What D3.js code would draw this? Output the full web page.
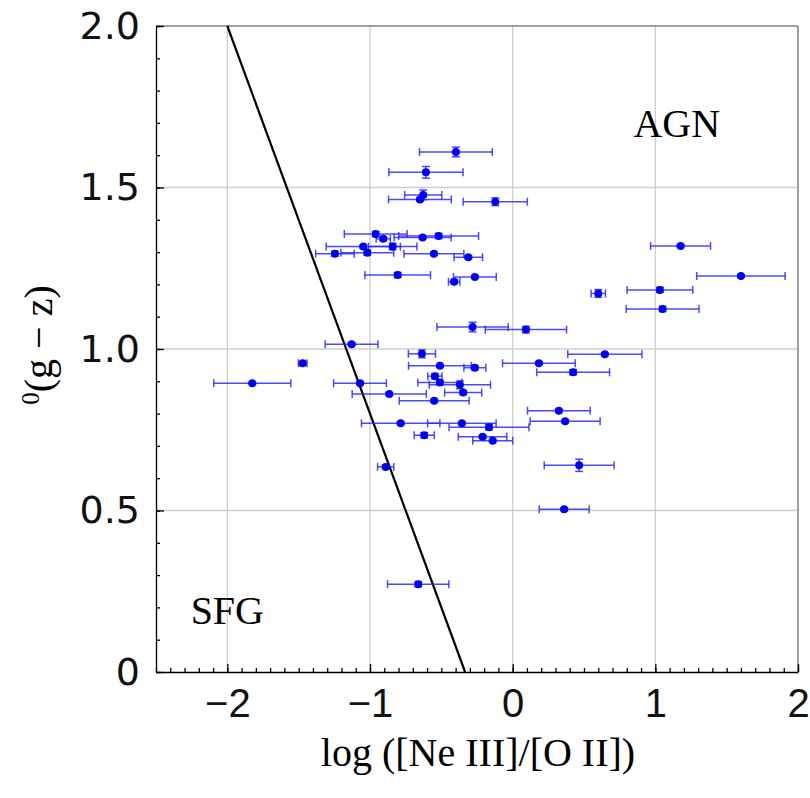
<!DOCTYPE html>
<html>
<head>
<meta charset="utf-8">
<script src="https://cdn.jsdelivr.net/npm/d3@7"></script>
<style>
  body { margin: 0; background: #fff; }
  svg { display: block; }
  .axis path, .axis line { stroke: #000; stroke-width: 1.3; }
  .axis text { font-family: "DejaVu Sans", sans-serif; font-size: 38px; fill: #111; }
  .axis-x text { font-family: "Liberation Sans Narrow", "Liberation Sans", sans-serif; font-size: 40px; }
  .grid line { stroke: #cfcfcf; stroke-width: 1.3; }
  .err { stroke: #2a2aff; stroke-width: 1.5; stroke-opacity: 0.85; }
  .dot { fill: #0000f0; }
  .label { font-family: "Liberation Serif", serif; fill: #000; }
</style>
</head>
<body>
<svg></svg>
<script>
// log([Ne III]/[O II]) values
const xVals = [-0.398, -0.608, -0.627, -0.65, -0.122, -0.96, -0.907, -0.631, -0.519, -1.047,
               -0.841, -1.246, -1.019, -0.552, -0.311, -0.806, -0.265, -0.41, 1.177, 1.6,
               0.6, 1.032, 1.051, -0.281, 0.093, -1.129, -1.472, -0.636, -0.51, -0.265,
               -1.825, -1.07, -0.545, -0.51, -0.37, -0.347, -0.865, -0.55, -0.785, -0.356,
               -0.166, -0.62, -0.211, -0.14, 0.324, 0.368, 0.466, 0.646, 0.184, 0.424,
               0.361, -0.89, -0.662];
const xErr = [0.255, 0.26, 0.13, 0.22, 0.225, 0.22, 0.05, 0.2, 0.28, 0.26,
              0.17, 0.135, 0.185, 0.21, 0.1, 0.23, 0.15, 0.04, 0.21, 0.31,
              0.05, 0.23, 0.255, 0.25, 0.285, 0.185, 0.03, 0.095, 0.22, 0.077,
              0.27, 0.185, 0.05, 0.155, 0.215, 0.13, 0.26, 0.245, 0.275, 0.24,
              0.28, 0.07, 0.17, 0.14, 0.22, 0.245, 0.245, 0.26, 0.255, 0.255,
              0.175, 0.057, 0.215];
// rest-frame (g - z) colour
const yVals = [1.61, 1.547, 1.477, 1.463, 1.456, 1.356, 1.341, 1.345, 1.35, 1.317,
               1.317, 1.295, 1.298, 1.295, 1.284, 1.229, 1.223, 1.208, 1.319, 1.226,
               1.172, 1.183, 1.124, 1.068, 1.06, 1.015, 0.956, 0.985, 0.948, 0.942,
               0.894, 0.894, 0.916, 0.896, 0.889, 0.865, 0.861, 0.84, 0.77, 0.77,
               0.758, 0.733, 0.728, 0.716, 0.809, 0.776, 0.64, 0.984, 0.956, 0.928,
               0.504, 0.635, 0.272];
const yErr = [0.015, 0.018, 0.015, 0.005, 0.012, 0.008, 0.005, 0.004, 0.008, 0.005,
              0.01, 0.008, 0.008, 0.004, 0.004, 0.008, 0.004, 0.005, 0.004, 0.004,
              0.012, 0.008, 0.008, 0.015, 0.01, 0.004, 0.005, 0.012, 0.004, 0.006,
              0.003, 0.004, 0.008, 0.006, 0.012, 0.006, 0.004, 0.004, 0.004, 0.004,
              0.008, 0.008, 0.004, 0.004, 0.004, 0.004, 0.019, 0.004, 0.004, 0.008,
              0.004, 0.006, 0.008];

// demarcation line y = -1.2 x - 0.4
const divX = [-2, -1 / 3];
const divY = divX.map(function(x) { return -1.2 * x - 0.4; });

const xTicks = [-2, -1, 0, 1, 2];
const xTickLabels = ["\u22122", "\u22121", "0", "1", "2"];
const yTicks = [0, 0.5, 1.0, 1.5, 2.0];
const yTickLabels = ["0", "0.5", "1.0", "1.5", "2.0"];

const data = xVals.map(function(x, i) {
  return {x: x, y: yVals[i], ex: xErr[i], ey: yErr[i]};
});

const margin = {top: 26, right: 12, bottom: 126, left: 156},
      width = 810 - margin.left - margin.right,
      height = 798 - margin.top - margin.bottom;

const svg = d3.select("svg").attr("width", 810).attr("height", 798);
const g = svg.append("g")
    .attr("transform", "translate(" + margin.left + "," + margin.top + ")");

const xScale = d3.scaleLinear().domain([-2.5, 2]).range([0, width]);
const yScale = d3.scaleLinear().domain([0, 2]).range([height, 0]);

// Grid
const grid = g.append("g").attr("class", "grid");
grid.selectAll(".gx").data([-2, -1, 0, 1]).enter().append("line")
    .attr("x1", function(d) { return xScale(d); }).attr("x2", function(d) { return xScale(d); })
    .attr("y1", 0).attr("y2", height);
grid.selectAll(".gy").data([0.5, 1.0, 1.5]).enter().append("line")
    .attr("y1", function(d) { return yScale(d); }).attr("y2", function(d) { return yScale(d); })
    .attr("x1", 0).attr("x2", width);

// Frame top + right
g.append("line").attr("x1", 0).attr("x2", width).attr("y1", 0).attr("y2", 0)
    .attr("stroke", "#808080").attr("stroke-width", 1.5);
g.append("line").attr("x1", width).attr("x2", width).attr("y1", 0).attr("y2", height)
    .attr("stroke", "#808080").attr("stroke-width", 1.5);

// Minor ticks
g.append("g").attr("class", "axis axis-x-minor")
    .attr("transform", "translate(0," + height + ")")
    .call(d3.axisBottom(xScale).tickValues(d3.range(-25, 21).map(function(d) { return d / 10; }))
      .tickSize(-4).tickFormat(""))
    .select(".domain").remove();
g.append("g").attr("class", "axis axis-y-minor")
    .call(d3.axisLeft(yScale).tickValues(d3.range(0, 21).map(function(d) { return d / 10; }))
      .tickSize(-4).tickFormat(""))
    .select(".domain").remove();

// Axes
g.append("g")
    .attr("class", "axis axis-x")
    .attr("transform", "translate(0," + height + ")")
    .call(d3.axisBottom(xScale).tickValues(xTicks).tickSize(-8).tickSizeOuter(0).tickPadding(17)
      .tickFormat(function(d, i) { return xTickLabels[i]; }));

g.append("g")
    .attr("class", "axis axis-y")
    .call(d3.axisLeft(yScale).tickValues(yTicks).tickSize(-8).tickSizeOuter(0).tickPadding(16)
      .tickFormat(function(d, i) { return yTickLabels[i]; }));

// Dividing line
g.append("line")
    .attr("x1", xScale(divX[0])).attr("y1", yScale(divY[0]))
    .attr("x2", xScale(divX[1])).attr("y2", yScale(divY[1]))
    .attr("stroke", "#000").attr("stroke-width", 2.2);

// Error bars
const cap = 4;
const eb = g.append("g");
data.forEach(function(d) {
  const cx = xScale(d.x), cy = yScale(d.y);
  const x0 = xScale(d.x - d.ex), x1 = xScale(d.x + d.ex);
  const y0 = yScale(d.y - d.ey), y1 = yScale(d.y + d.ey);
  eb.append("line").attr("class", "err").attr("x1", x0).attr("x2", x1).attr("y1", cy).attr("y2", cy);
  eb.append("line").attr("class", "err").attr("x1", x0).attr("x2", x0).attr("y1", cy - cap).attr("y2", cy + cap);
  eb.append("line").attr("class", "err").attr("x1", x1).attr("x2", x1).attr("y1", cy - cap).attr("y2", cy + cap);
  eb.append("line").attr("class", "err").attr("x1", cx).attr("x2", cx).attr("y1", y0).attr("y2", y1);
  eb.append("line").attr("class", "err").attr("x1", cx - cap).attr("x2", cx + cap).attr("y1", y0).attr("y2", y0);
  eb.append("line").attr("class", "err").attr("x1", cx - cap).attr("x2", cx + cap).attr("y1", y1).attr("y2", y1);
});

// Points
g.selectAll(".dot").data(data).enter().append("circle")
    .attr("class", "dot")
    .attr("cx", function(d) { return xScale(d.x); })
    .attr("cy", function(d) { return yScale(d.y); })
    .attr("r", 4);

// Region labels
g.append("text").attr("class", "label")
    .attr("x", xScale(1.15)).attr("y", yScale(1.655))
    .attr("text-anchor", "middle").attr("font-size", 40).text("AGN");
g.append("text").attr("class", "label")
    .attr("x", xScale(-2.0)).attr("y", yScale(0.15))
    .attr("text-anchor", "middle").attr("font-size", 40).text("SFG");

// Axis titles
svg.append("text").attr("class", "label")
    .attr("x", 478).attr("y", 766)
    .attr("text-anchor", "middle").attr("font-size", 40)
    .text("log ([Ne III]/[O II])");

const yl = svg.append("text").attr("class", "label")
    .attr("transform", "translate(52,345) rotate(-90)")
    .attr("text-anchor", "middle").attr("font-size", 40)
    .attr("font-family", "DejaVu Sans, sans-serif");
yl.append("tspan").attr("font-size", 25).attr("dy", -13).text("0");
yl.append("tspan").attr("dy", 13).text("(g − z)");
</script>
</body>
</html>
